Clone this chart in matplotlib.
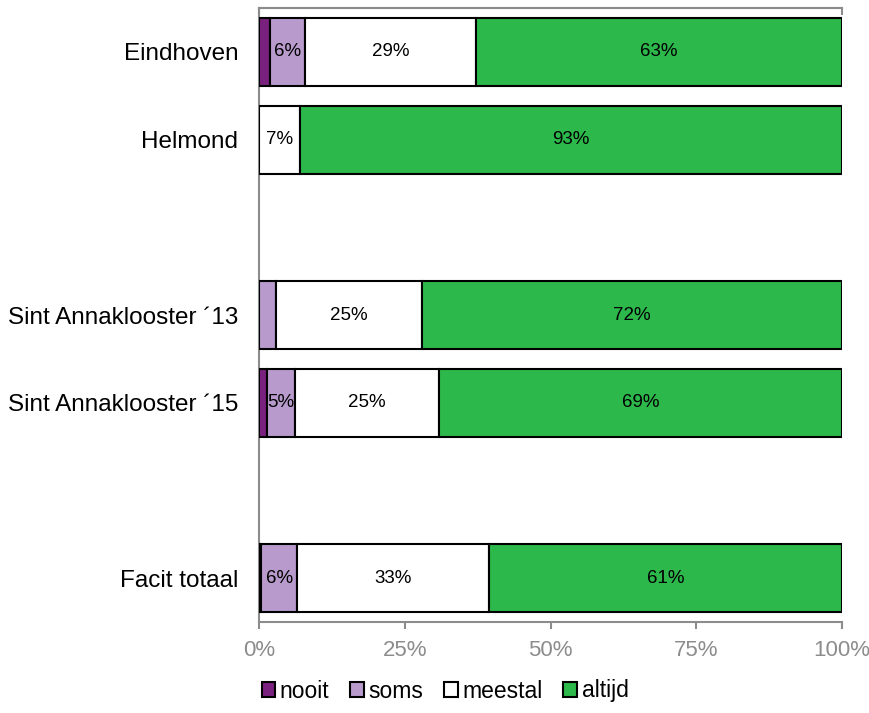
import matplotlib
matplotlib.use("Agg")
import matplotlib.pyplot as plt
import numpy as np

plt.rcParams['font.family'] = ['Liberation Sans', 'DejaVu Sans']

# Response shares per location (percent of respondents)
categories = ["Eindhoven", "Helmond", "Sint Annaklooster \u00b413", "Sint Annaklooster \u00b415", "Facit totaal"]
slots = [0, 1, 3, 4, 6]  # empty rows separate the groups

series_names = ["nooit", "soms", "meestal", "altijd"]
nooit   = [1.9, 0.0, 0.0, 1.4, 0.4]
soms    = [6.0, 0.0, 2.9, 4.8, 6.1]
meestal = [29.3, 7.0, 25.0, 24.6, 32.9]
altijd  = [62.8, 93.0, 72.1, 69.2, 60.6]

colors = ["#7a217f", "#b89bcc", "#ffffff", "#2db84b"]
xticks = [0, 25, 50, 75, 100]
xtick_labels = ["0%", "25%", "50%", "75%", "100%"]

fig = plt.figure(figsize=(8.69, 7.13), dpi=100)
ax = fig.add_axes([259 / 869, 1 - 622 / 713, (842 - 259) / 869, (622 - 8) / 713])

left = np.zeros(len(categories))
for name, vals, col in zip(series_names, [nooit, soms, meestal, altijd], colors):
    vals = np.array(vals)
    ax.barh(slots, vals, left=left, height=0.775, color=col,
            edgecolor="black", linewidth=1.5, label=name, zorder=3)
    for y, l, v in zip(slots, left, vals):
        if name != "nooit" and v >= 4:
            ax.text(l + v / 2, y, f"{v:.0f}%", ha="center", va="center",
                    fontsize=13.5, color="black", zorder=4)
    left = left + vals

ax.set_xlim(0, 100)
ax.set_ylim(6.5, -0.5)
ax.set_yticks(slots)
ax.set_yticklabels(categories, fontsize=17.5)
ax.tick_params(axis="y", length=0, pad=15)
ax.set_xticks(xticks)
ax.set_xticklabels(xtick_labels, fontsize=16, color="#8c8c8c")
ax.tick_params(axis="x", direction="out", length=5, width=1.5, color="#8c8c8c", pad=8)

for side in ["left", "bottom", "top"]:
    ax.spines[side].set_color("#8c8c8c")
    ax.spines[side].set_linewidth(1.5)
ax.spines["right"].set_visible(False)

top = ax.secondary_xaxis("top")
top.set_xticks([0, 100])
top.set_xticklabels([])
top.tick_params(direction="in", length=5, width=1.5, color="#8c8c8c")
top.spines["top"].set_color("#8c8c8c")
top.spines["top"].set_linewidth(1.5)

handles, labels = ax.get_legend_handles_labels()
fig.legend(handles, labels, loc="center", bbox_to_anchor=(445 / 869, 1 - 691 / 713),
           ncol=4, frameon=False, fontsize=16.5, handlelength=0.6, handleheight=0.6,
           handletextpad=0.2, columnspacing=0.9, borderaxespad=0)

fig.savefig("out.png", dpi=100)
